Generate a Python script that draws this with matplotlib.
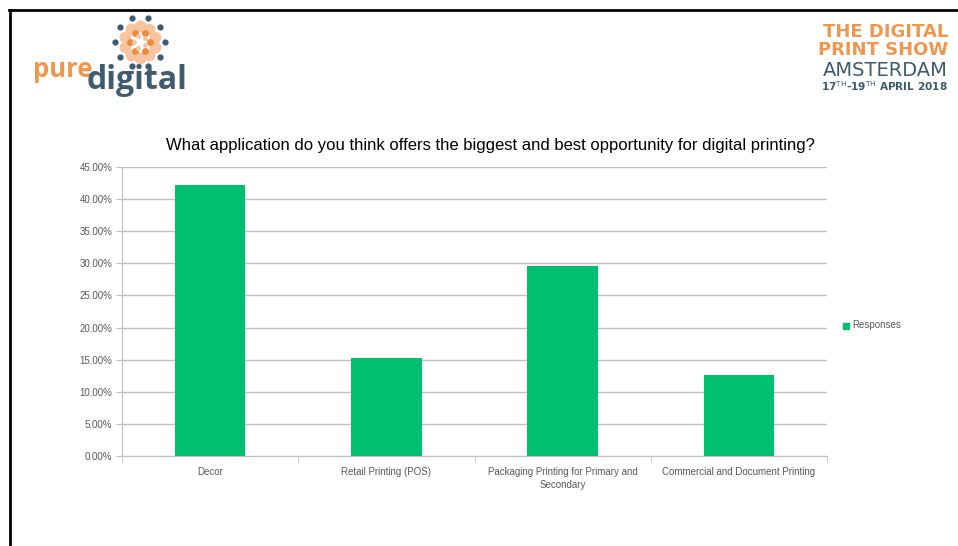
import numpy as np
import matplotlib.pyplot as plt
from matplotlib.ticker import FuncFormatter, FixedLocator

plt.rcParams["font.family"] = ["Liberation Sans Narrow", "Liberation Sans", "DejaVu Sans"]

# ------------------------------------------------------------
# Data
# ------------------------------------------------------------
categories = ["Decor", "Retail Printing (POS)",
              "Packaging Printing for Primary and\nSecondary",
              "Commercial and Document Printing"]
responses = [42.2, 15.3, 29.6, 12.6]
y_ticks = [0, 5, 10, 15, 20, 25, 30, 35, 40, 45]

title = "What application do you think offers the biggest and best opportunity for digital printing?"
bar_color = "#00BF6F"
grid_color = "#BFBFBF"
label_color = "#595959"
orange = "#F0974E"
slate = "#3E5B70"

fig = plt.figure(figsize=(9.58, 5.46), dpi=100)
W, H = 958, 546

# slide frame (top and left edges)
fig.add_artist(plt.Line2D([9 / W, 1], [1 - 10 / H, 1 - 10 / H], color="black", lw=2))
fig.add_artist(plt.Line2D([10 / W, 10 / W], [0, 1 - 10 / H], color="black", lw=2))

# ------------------------------------------------------------
# Chart
# ------------------------------------------------------------
ax = fig.add_axes([122 / W, 1 - 456 / H, (827 - 122) / W, (456 - 167) / H])
x = np.arange(len(categories))
ax.bar(x, responses, width=0.4, color=bar_color, zorder=3)
ax.set_xlim(-0.5, len(categories) - 0.5)
ax.set_ylim(0, 45)
ax.yaxis.set_major_locator(FixedLocator(y_ticks))
ax.yaxis.set_major_formatter(FuncFormatter(lambda v, p: f"{v:.2f}%"))
ax.grid(axis="y", color=grid_color, lw=1, zorder=0)
ax.set_xticks(x)
ax.set_xticklabels(categories, fontsize=7, color=label_color, linespacing=1.3)
ax.xaxis.set_minor_locator(FixedLocator(np.arange(-0.5, len(categories), 1.0)))
ax.tick_params(axis="x", which="major", length=0, pad=8)
ax.tick_params(axis="x", which="minor", length=4, color=grid_color)
ax.tick_params(axis="y", length=4, color=grid_color, labelsize=7, labelcolor=label_color, pad=3)
for side in ["top", "right"]:
    ax.spines[side].set_visible(False)
for side in ["left", "bottom"]:
    ax.spines[side].set_color(grid_color)

fig.text(490 / W, 1 - 146 / H, title, ha="center", va="center", fontsize=12, color="black")

# legend
fig.patches.append(plt.Rectangle((843 / W, 1 - 329 / H), 6 / W, 6 / H,
                                 transform=fig.transFigure, color=bar_color))
fig.text(852 / W, 1 - 325 / H, "Responses", ha="left", va="center", fontsize=7, color=label_color)

# ------------------------------------------------------------
# Logos
# ------------------------------------------------------------
cx, cy = 140, 42
rings = [(25, 10, 4.5, slate, 0.0), (16, 10, 8.5, "#F7C4A0", 0.31),
         (10, 6, 5, "#F08A3C", 0.0), (6, 5, 3.5, "#F7C4A0", 0.6)]
for r, n, ms, c, off in rings:
    ang = np.linspace(0, 2 * np.pi, n, endpoint=False) + off
    fig.add_artist(plt.Line2D((cx + r * np.cos(ang)) / W, 1 - (cy + r * np.sin(ang)) / H,
                              ls="none", marker="o", ms=ms, mew=0, color=c))
fig.text(33 / W, 1 - 77 / H, "pure", fontsize=18.5, color=orange, weight="bold",
         family=["Open Sans", "DejaVu Sans"], va="baseline")
fig.text(87 / W, 1 - 89 / H, "digital", fontsize=23, color=slate, weight="bold",
         family=["Open Sans", "DejaVu Sans"], va="baseline")

fig.text(948 / W, 1 - 41 / H, "THE DIGITAL\nPRINT SHOW", ha="right", va="center", fontsize=13,
         color=orange, weight="heavy", family=["DejaVu Sans"], linespacing=1.05)
fig.text(948 / W, 1 - 70 / H, "AMSTERDAM", ha="right", va="center", fontsize=14,
         color=slate, family=["DejaVu Sans"])
fig.text(948 / W, 1 - 86 / H, "17$^{\\mathrm{TH}}$-19$^{\\mathrm{TH}}$ APRIL 2018", ha="right", va="center",
         fontsize=7.6, color=slate, weight="bold", family=["DejaVu Sans"])

fig.savefig("out.png", dpi=100)
